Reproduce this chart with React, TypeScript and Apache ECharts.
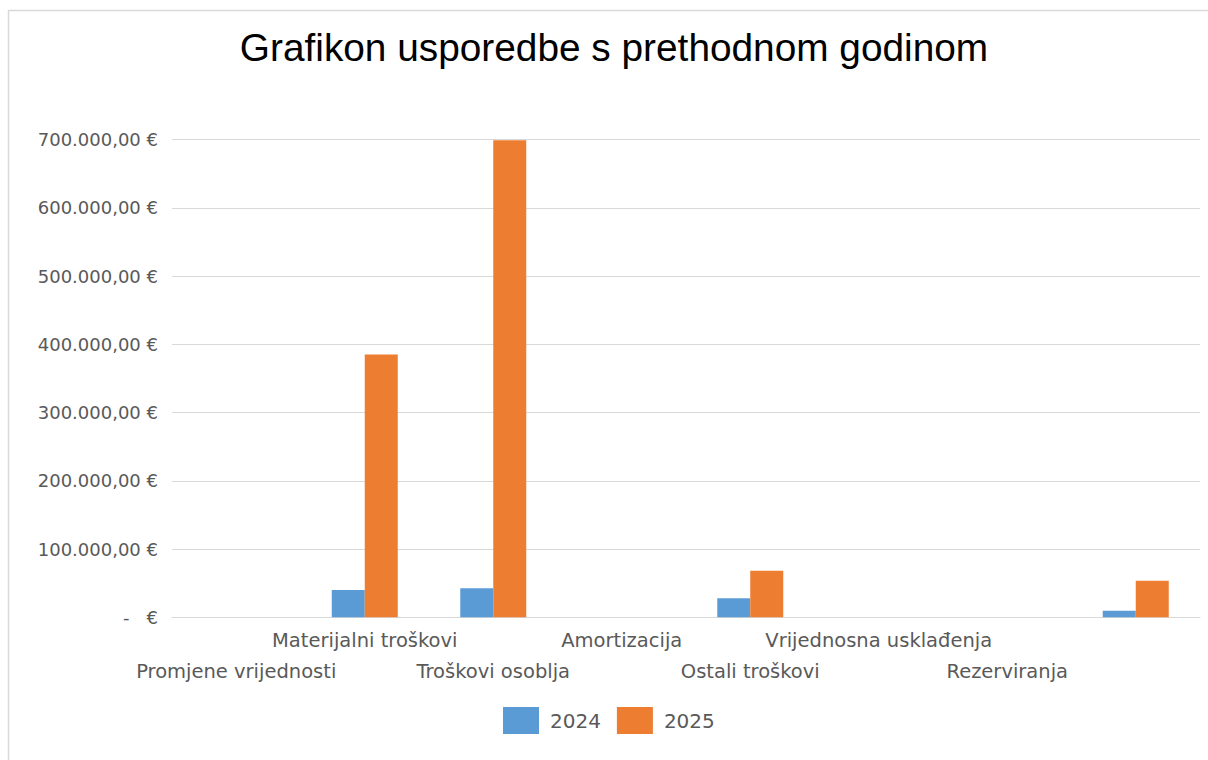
import React, { useEffect, useRef } from "react";
import * as echarts from "echarts";

const categories = [
  "Promjene vrijednosti",
  "Materijalni troškovi",
  "Troškovi osoblja",
  "Amortizacija",
  "Ostali troškovi",
  "Vrijednosna usklađenja",
  "Rezerviranja",
  "",
];
const values2024 = [0, 40000, 42500, 0, 27800, 0, 0, 9700];
const values2025 = [0, 385000, 699000, 0, 68300, 0, 0, 53600];
const seriesNames = ["2024", "2025"];
const yTicks = { min: 0, max: 700000, interval: 100000 };

const fmtEuro = (v: number) => {
  if (v === 0) return "-   €";
  const s = Math.round(v).toString().replace(/\B(?=(\d{3})+(?!\d))/g, ".");
  return s + ",00 €";
};

export default function App() {
  const ref = useRef<HTMLDivElement>(null);
  useEffect(() => {
    if (!ref.current) return;
    const chart = echarts.init(ref.current, undefined, { renderer: "svg" });
    chart.setOption({
      animation: false,
      backgroundColor: "#ffffff",
      title: {
        text: "Grafikon usporedbe s prethodnom godinom",
        left: 614,
        textAlign: "center",
        top: 28,
        padding: 0,
        textStyle: {
          fontFamily: "Liberation Sans",
          fontSize: 38.8,
          fontWeight: "normal",
          color: "#000000",
        },
      },
      graphic: [
        {
          type: "rect",
          silent: true,
          shape: { x: 8.5, y: 10.5, width: 1260, height: 800 },
          style: { fill: "none", stroke: "#d9d9d9", lineWidth: 1.5 },
        },
      ],
      legend: {
        left: 503,
        top: 707,
        padding: 0,
        itemWidth: 36,
        itemHeight: 27,
        itemGap: 16,
        icon: "rect",
        textStyle: {
          fontFamily: "DejaVu Sans",
          fontSize: 20,
          color: "#595959",
          padding: [0, 0, 0, 6],
        },
        data: seriesNames,
      },
      grid: { left: 172, right: 8, top: 139.5, bottom: 760 - 617.3 },
      xAxis: {
        type: "category",
        data: categories,
        axisLine: { show: true, lineStyle: { color: "#d9d9d9", width: 1 } },
        axisTick: { show: false },
        axisLabel: {
          interval: 0,
          margin: 8,
          fontFamily: "DejaVu Sans",
          fontSize: 19.5,
          color: "#595959",
          lineHeight: 31,
          verticalAlign: "top",
          formatter: (v: string, i: number) => (i % 2 === 0 ? "\n" + v : v),
        },
      },
      yAxis: {
        type: "value",
        min: yTicks.min,
        max: yTicks.max,
        interval: yTicks.interval,
        axisLine: { show: false },
        axisTick: { show: false },
        splitLine: { lineStyle: { color: "#d9d9d9", width: 1 } },
        axisLabel: {
          margin: 14,
          fontFamily: "DejaVu Sans",
          fontSize: 18,
          color: "#595959",
          formatter: (v: number) => fmtEuro(v),
        },
      },
      series: [
        {
          name: seriesNames[0],
          type: "bar",
          data: values2024,
          barWidth: 33,
          barGap: "0%",
          itemStyle: { color: "#5b9bd5" },
        },
        {
          name: seriesNames[1],
          type: "bar",
          data: values2025,
          barWidth: 33,
          barGap: "0%",
          itemStyle: { color: "#ed7d31" },
        },
      ],
    });
    return () => chart.dispose();
  }, []);
  return (
    <div
      ref={ref}
      style={{ position: "fixed", left: 0, top: 0, width: 1208, height: 760 }}
    />
  );
}
